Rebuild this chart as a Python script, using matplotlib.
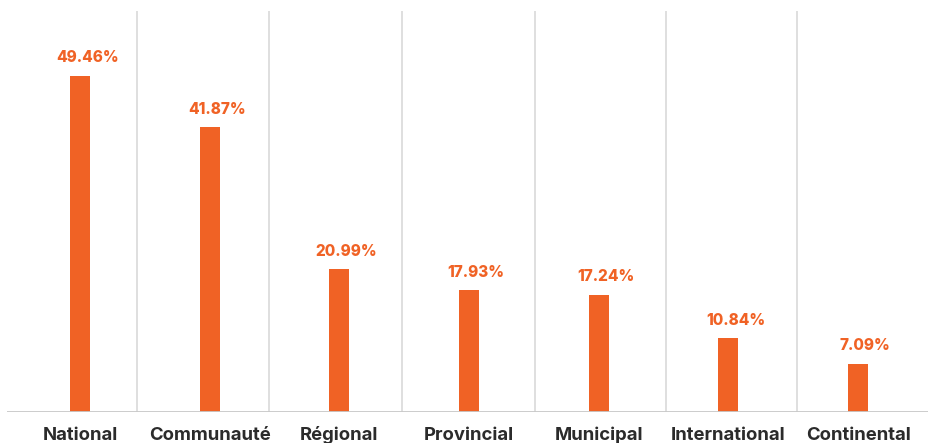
import matplotlib
matplotlib.use("Agg")
import matplotlib.pyplot as plt

categories = ["National", "Communauté", "Régional", "Provincial", "Municipal", "International", "Continental"]
values = [49.46, 41.87, 20.99, 17.93, 17.24, 10.84, 7.09]
value_labels = ["49.46%", "41.87%", "20.99%", "17.93%", "17.24%", "10.84%", "7.09%"]

W, H = 929, 443
fig = plt.figure(figsize=(W / 100, H / 100), dpi=100)
# axes spanning pixels x 7..929, y 11..412
ax = fig.add_axes([7 / W, (H - 412) / H, (929 - 7) / W, (412 - 11) / H])

step = 129.67  # px per category
x0 = 80.0
xs = list(range(len(categories)))
ax.set_xlim((7 - x0) / step, (929 - x0) / step)
ymax = (412 - 11) / 6.8
ax.set_ylim(0, ymax)

grid_px = [137, 269.5, 402.5, 534.7, 666, 797]
for g in grid_px:
    ax.axvline((g - x0) / step, color="#dcdcdc", lw=1.3, zorder=0)

bar_w = 20 / step
orange = "#F06225"
ax.bar(xs, values, width=bar_w, color=orange, zorder=2)

fam = ["Inter", "DejaVu Sans"]
for x, v, lab in zip(xs, values, value_labels):
    ax.annotate(lab, (x, v), xytext=(5.2, 9.6), textcoords="offset points",
                ha="center", va="baseline", fontsize=11, fontweight="heavy",
                color=orange, family=fam)

for x, c in zip(xs, categories):
    ax.annotate(c, (x, 0), xytext=(0, -20.2), textcoords="offset points",
                ha="center", va="baseline", fontsize=13.3, fontweight="bold",
                color="#2b2b2b", family=fam, annotation_clip=False)

ax.axhline(0, color="#c8c8c8", lw=1.3, zorder=3)
for s in ax.spines.values():
    s.set_visible(False)
ax.set_xticks([])
ax.set_yticks([])

fig.savefig("out.png", dpi=100)
